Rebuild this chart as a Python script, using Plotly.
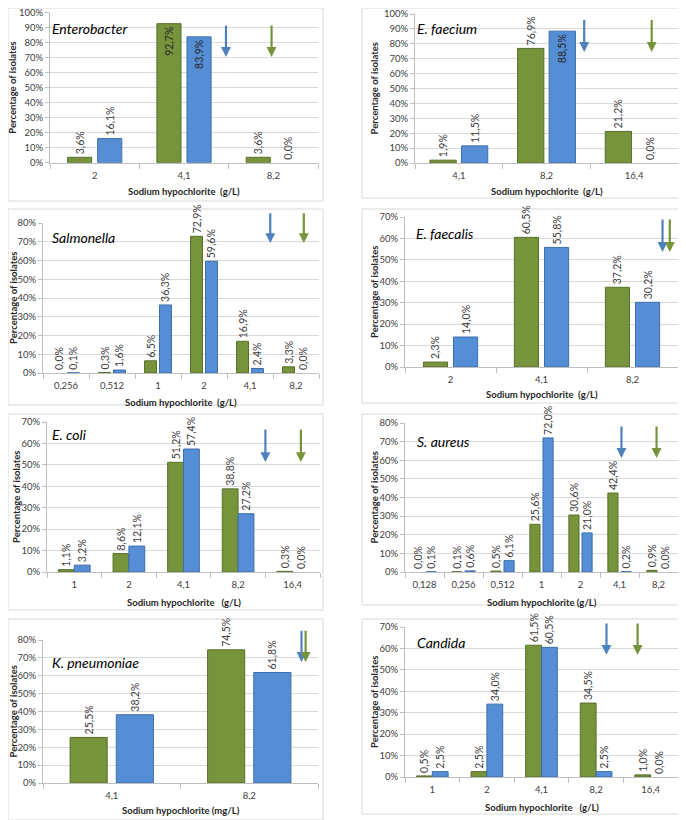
import plotly.graph_objects as go

# ---- data (percent of isolates per NaOCl concentration) ----
enterobacter_cats = ["2", "4,1", "8,2"]
enterobacter_green = [3.6, 92.7, 3.6]
enterobacter_blue = [16.1, 83.9, 0.0]

faecium_cats = ["4,1", "8,2", "16,4"]
faecium_green = [1.9, 76.9, 21.2]
faecium_blue = [11.5, 88.5, 0.0]

salmonella_cats = ["0,256", "0,512", "1", "2", "4,1", "8,2"]
salmonella_green = [0.0, 0.3, 6.5, 72.9, 16.9, 3.3]
salmonella_blue = [0.1, 1.6, 36.3, 59.6, 2.4, 0.0]

faecalis_cats = ["2", "4,1", "8,2"]
faecalis_green = [2.3, 60.5, 37.2]
faecalis_blue = [14.0, 55.8, 30.2]

ecoli_cats = ["1", "2", "4,1", "8,2", "16,4"]
ecoli_green = [1.1, 8.6, 51.2, 38.8, 0.3]
ecoli_blue = [3.2, 12.1, 57.4, 27.2, 0.0]

aureus_cats = ["0,128", "0,256", "0,512", "1", "2", "4,1", "8,2"]
aureus_green = [0.0, 0.1, 0.5, 25.6, 30.6, 42.4, 0.9]
aureus_blue = [0.1, 0.6, 6.1, 72.0, 21.0, 0.2, 0.0]

kpneu_cats = ["4,1", "8,2"]
kpneu_green = [25.5, 74.5]
kpneu_blue = [38.2, 61.8]

candida_cats = ["1", "2", "4,1", "8,2", "16,4"]
candida_green = [0.5, 2.5, 61.5, 34.5, 1.0]
candida_blue = [2.5, 34.0, 60.5, 2.5, 0.0]

# arrows: category-index position (blue, green) and y range (top, tip)
enterobacter_arrow_x = [1.47, 1.98]
enterobacter_arrow_y = [92.5, 70.5]
faecium_arrow_x = [1.43, 2.2]
faecium_arrow_y = [97.0, 74.5]
salmonella_arrow_x = [4.44, 5.17]
salmonella_arrow_y = [86.0, 69.3]
faecalis_arrow_x = [2.33, 2.41]
faecalis_arrow_y = [69.5, 53.7]
ecoli_arrow_x = [3.5, 4.15]
ecoli_arrow_y = [67.2, 51.3]
aureus_arrow_x = [5.05, 5.95]
aureus_arrow_y = [78.9, 61.2]
kpneu_arrow_x = [1.38, 1.41]
kpneu_arrow_y = [86.0, 67.7]
candida_arrow_x = [3.19, 3.76]
candida_arrow_y = [72.3, 57.0]

W, H = 686, 820
OFF = 8  # page body margin
FW, FH = W - OFF, H - OFF
GREEN, GREEN_EDGE = "#77933C", "#56702A"
BLUE, BLUE_EDGE = "#558ED5", "#3D6FAD"
ARROW_BLUE = "#4F81BD"
FONT = "Lato"


def px(x):
    return min(max((x - OFF) / FW, 0), 1)


def py(y):
    return min(max(1 - (y - OFF) / FH, 0), 1)


panels = [
    dict(name="Enterobacter", cats=enterobacter_cats, g=enterobacter_green, b=enterobacter_blue,
         ax=enterobacter_arrow_x, ay=enterobacter_arrow_y, ymax=100,
         plot=(50, 318, 12.7, 162.7), box=(1, 323, 4, 201), title_pos=(50, 29),
         ytx=13, xty=192, xt="Sodium hypochlorite\u00a0\u00a0(g/L)", w=0.27, d=0.067),
    dict(name="E. faecium", cats=faecium_cats, g=faecium_green, b=faecium_blue,
         ax=faecium_arrow_x, ay=faecium_arrow_y, ymax=100,
         plot=(415, 678, 14, 163), box=(362, 682, 4, 198), title_pos=(415, 29),
         ytx=374, xty=192, xt="Sodium hypochlorite\u00a0\u00a0(g/L)", w=0.30, d=0.06),
    dict(name="Salmonella", cats=salmonella_cats, g=salmonella_green, b=salmonella_blue,
         ax=salmonella_arrow_x, ay=salmonella_arrow_y, ymax=80,
         plot=(43, 319, 223, 373), box=(3, 323, 209, 405), title_pos=(50, 237),
         ytx=13, xty=402, xt="Sodium hypochlorite\u00a0\u00a0(g/L)", w=0.26, d=0.065),
    dict(name="E. faecalis", cats=faecalis_cats, g=faecalis_green, b=faecalis_blue,
         ax=faecalis_arrow_x, ay=faecalis_arrow_y, ymax=70,
         plot=(405, 678, 217, 367), box=(362, 682, 209, 403), title_pos=(414, 233),
         ytx=374, xty=395, xt="Sodium hypochlorite\u00a0\u00a0(g/L)", w=0.265, d=0.066),
    dict(name="E. coli", cats=ecoli_cats, g=ecoli_green, b=ecoli_blue,
         ax=ecoli_arrow_x, ay=ecoli_arrow_y, ymax=70,
         plot=(47, 320, 422, 572), box=(1, 323, 414, 610), title_pos=(50, 434),
         ytx=17, xty=602, xt="Sodium hypochlorite\u00a0\u00a0\u00a0(g/L)", w=0.29, d=0.0),
    dict(name="S. aureus", cats=aureus_cats, g=aureus_green, b=aureus_blue,
         ax=aureus_arrow_x, ay=aureus_arrow_y, ymax=80,
         plot=(405, 678, 423, 572), box=(362, 681, 414, 605), title_pos=(415, 442),
         ytx=374, xty=602, xt="Sodium hypochlorite (g/L)", w=0.26, d=0.077),
    dict(name="K. pneumoniae", cats=kpneu_cats, g=kpneu_green, b=kpneu_blue,
         ax=kpneu_arrow_x, ay=kpneu_arrow_y, ymax=80,
         plot=(43, 318, 640, 783), box=(1, 323, 619, 822), title_pos=(50, 662),
         ytx=13, xty=810, xt="Sodium hypochlorite (mg/L)", w=0.27, d=0.066),
    dict(name="Candida", cats=candida_cats, g=candida_green, b=candida_blue,
         ax=candida_arrow_x, ay=candida_arrow_y, ymax=70,
         plot=(405, 678, 627, 777), box=(362, 681, 619, 814), title_pos=(415, 642),
         ytx=374, xty=807, xt="Sodium hypochlorite\u00a0\u00a0\u00a0(g/L)", w=0.29, d=0.0),
]


def fmt(v):
    return f"{v:.1f}%".replace(".", ",")


fig = go.Figure()
layout = {}
shapes = []
annotations = []
axis_title_font = dict(size=9.5, color="#262626", family=FONT)

for i, p in enumerate(panels, start=1):
    sx = "" if i == 1 else str(i)
    x0, x1, y0, y1 = p["plot"]
    for vals, col, edge, off in [(p["g"], GREEN, GREEN_EDGE, -p["w"] - p["d"] / 2),
                                 (p["b"], BLUE, BLUE_EDGE, p["d"] / 2)]:
        # labels that would run off the top of the page go inside the bar
        tops = [y1 - v / p["ymax"] * (y1 - y0) for v in vals]
        pos = ["inside" if t - 30 < OFF else "outside" for t in tops]
        fig.add_trace(go.Bar(
            x=p["cats"], y=vals, xaxis="x" + sx, yaxis="y" + sx,
            width=p["w"], offset=off,
            marker=dict(color=col, line=dict(color=edge, width=[1 if v > 0 else 0 for v in vals])),
            text=[fmt(v) for v in vals], textposition=pos, textangle=-90,
            insidetextanchor="end", constraintext="none", cliponaxis=False,
            textfont=dict(size=10.5, color="#404040", family=FONT),
            insidetextfont=dict(size=10.5, color="#262626", family=FONT),
            showlegend=False, hoverinfo="skip"))

    layout["xaxis" + sx] = dict(
        domain=[px(x0), px(x1)], anchor="y" + sx, type="category", automargin=False,
        showline=True, linecolor="#BFBFBF", ticks="outside", tickson="boundaries",
        ticklen=5, tickcolor="#BFBFBF", showgrid=False, ticklabelstandoff=4,
        ticklabeloverflow="allow",
        tickfont=dict(size=9.5, color="#404040", family=FONT))
    layout["yaxis" + sx] = dict(
        domain=[py(y1), py(y0)], anchor="x" + sx, range=[0, p["ymax"]],
        dtick=10, ticksuffix="%", showline=True, linecolor="#BFBFBF", automargin=False,
        ticks="outside", ticklen=4, tickcolor="#BFBFBF", ticklabeloverflow="allow",
        gridcolor="#D9D9D9", gridwidth=1, zeroline=False,
        tickfont=dict(size=9.5, color="#404040", family=FONT))

    bx0, bx1, by0, by1 = p["box"]
    shapes.append(dict(type="rect", xref="paper", yref="paper",
                       x0=px(bx0), x1=px(bx1), y0=py(by1), y1=py(by0),
                       line=dict(color="#D9D9D9", width=1), layer="below"))

    # axis titles
    annotations.append(dict(text="<b>Percentage of isolates</b>", xref="paper", yref="paper",
                            x=px(p["ytx"]), y=py((y0 + y1) / 2), textangle=-90,
                            xanchor="center", yanchor="middle", showarrow=False,
                            font=axis_title_font))
    annotations.append(dict(text="<b>" + p["xt"] + "</b>", xref="paper", yref="paper",
                            x=px((x0 + x1) / 2), y=py(p["xty"]),
                            xanchor="center", yanchor="middle", showarrow=False,
                            font=axis_title_font))

    tx, ty = p["title_pos"]
    annotations.append(dict(text="<i>" + p["name"] + "</i>", xref="paper", yref="paper",
                            x=px(tx), y=py(ty), xanchor="left", yanchor="middle",
                            showarrow=False, font=dict(size=14, color="#000000", family=FONT)))

    top, bottom = p["ay"]
    for xpos, col in zip(p["ax"], [ARROW_BLUE, GREEN]):
        annotations.append(dict(x=xpos, y=bottom, ax=xpos, ay=top,
                                xref="x" + sx, yref="y" + sx, axref="x" + sx, ayref="y" + sx,
                                showarrow=True, arrowhead=2, arrowsize=0.9, arrowwidth=2.2,
                                arrowcolor=col, text=""))

fig.update_layout(**layout)
fig.update_layout(width=FW, height=FH, margin=dict(l=0, r=0, t=0, b=0),
                  paper_bgcolor="white", plot_bgcolor="white",
                  shapes=shapes, annotations=annotations,
                  font=dict(family=FONT))
fig.write_html("out.html")
